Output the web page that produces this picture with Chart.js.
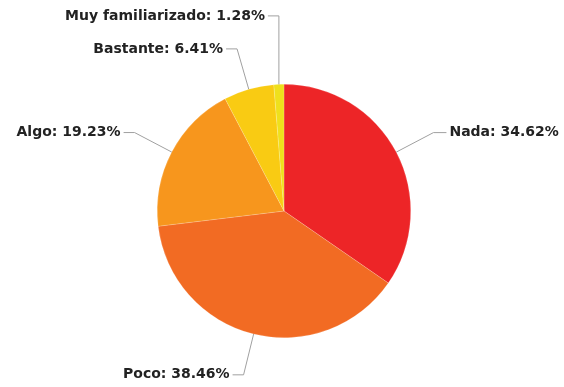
<!DOCTYPE html>
<html>
<head>
<meta charset="utf-8">
<script src="https://cdn.jsdelivr.net/npm/chart.js@4/dist/chart.umd.min.js"></script>
<style>
  html, body { margin: 0; padding: 0; background: #ffffff; }
  #wrap { position: relative; width: 564px; height: 387px; }
</style>
</head>
<body>
<div id="wrap"><canvas id="c"></canvas></div>
<script>
// Survey answers: familiarity level and share of respondents (%)
const categories = ['Nada', 'Poco', 'Algo', 'Bastante', 'Muy familiarizado'];
const shares = [34.62, 38.46, 19.23, 6.41, 1.28];
const sliceColors = ['#ED2527', '#F26B23', '#F7961D', '#F9CB13', '#EFE01C'];

// Outside labels joined to their slice by an elbowed leader line
const leaderLabels = {
  id: 'leaderLabels',
  afterDatasetsDraw(chart) {
    const ctx = chart.ctx;
    const meta = chart.getDatasetMeta(0);
    const values = chart.data.datasets[0].data;
    const items = meta.data.map((arc, i) => {
      const p = arc.getProps(['x', 'y', 'startAngle', 'endAngle', 'outerRadius'], true);
      const mid = (p.startAngle + p.endAngle) / 2;
      const R = p.outerRadius;
      const ex = p.x + Math.cos(mid) * R;
      const ey = p.y + Math.sin(mid) * R;
      const ox = p.x + Math.cos(mid) * (R + 42);
      const oy = p.y + Math.sin(mid) * (R + 42);
      return {
        text: chart.data.labels[i] + ': ' + values[i].toFixed(2) + '%',
        ex, ey, ox, oy, ty: oy,
        right: Math.cos(mid) >= 0
      };
    });

    // keep labels on the same side from overlapping, pushing upward
    const gap = 33;
    [true, false].forEach(side => {
      const group = items.filter(it => it.right === side).sort((a, b) => b.oy - a.oy);
      let prev = null;
      group.forEach(it => {
        if (prev !== null && it.ty > prev - gap) {
          it.ty = prev - gap;
          it.ox = it.ex;
        }
        prev = it.ty;
      });
    });

    ctx.save();
    ctx.font = 'bold 14px "DejaVu Sans", sans-serif';
    ctx.textBaseline = 'middle';
    items.forEach(it => {
      const hx = it.right ? it.ox + 13 : it.ox - 11;
      ctx.beginPath();
      ctx.strokeStyle = '#a0a0a0';
      ctx.lineWidth = 1;
      ctx.moveTo(it.ex, it.ey);
      ctx.lineTo(it.ox, it.ty);
      ctx.lineTo(hx, it.ty);
      ctx.stroke();
      ctx.fillStyle = '#222222';
      ctx.textAlign = it.right ? 'left' : 'right';
      ctx.fillText(it.text, it.right ? hx + 3 : hx - 3, it.ty);
    });
    ctx.restore();
  }
};

new Chart(document.getElementById('c'), {
  type: 'pie',
  data: {
    labels: categories,
    datasets: [{
      data: shares,
      backgroundColor: sliceColors,
      borderColor: 'rgba(255,255,255,0.35)',
      borderWidth: 0.5
    }]
  },
  options: {
    responsive: true,
    maintainAspectRatio: false,
    animation: false,
    layout: { padding: { top: 84, bottom: 49, left: 157, right: 153 } },
    plugins: {
      legend: { display: false },
      tooltip: { enabled: false }
    }
  },
  plugins: [leaderLabels]
});
</script>
</body>
</html>
